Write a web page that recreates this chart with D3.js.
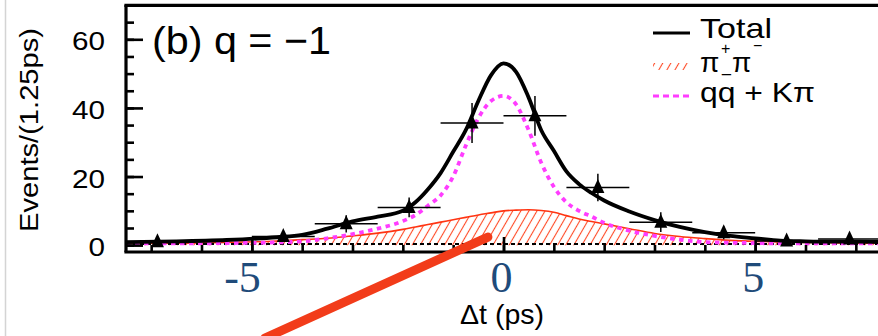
<!DOCTYPE html>
<html>
<head>
<meta charset="utf-8">
<script src="https://cdn.jsdelivr.net/npm/d3@7"></script>
<style>
  html, body { margin: 0; padding: 0; background: #fff; }
  svg { display: block; }
</style>
</head>
<body>
<svg id="chart" width="878" height="336"></svg>
<script>
// Fit components, sampled on a Δt grid (ps)
const deltaT = [-7.5, -6.5, -5.5, -4.5, -4, -3.5, -3, -2.5, -2, -1.75, -1.5, -1.25, -1, -0.75, -0.5, -0.25,
                0, 0.25, 0.5, 0.75, 1, 1.25, 1.5, 1.75, 2, 2.5, 3, 3.5, 4, 4.5, 5, 5.5, 6, 6.5, 7, 7.5];
const totalFit = [0.9, 1.1, 1.5, 2.3, 3.0, 4.8, 6.9, 8.3, 10.0, 12.5, 16.3, 21.0, 27.2, 33.5, 42.0, 49.5,
                  53.0, 50.5, 43.0, 33.5, 27.5, 21.5, 17.8, 15.2, 13.0, 9.8, 7.3, 5.3, 3.8, 2.7, 2.0, 1.3, 1.1, 1.0, 1.0, 0.9];
const qqKpiFit = [0.5, 0.5, 0.6, 0.8, 1.1, 2.0, 3.2, 4.8, 7.0, 8.8, 11.5, 14.5, 20.0, 29.0, 37.0, 42.0,
                  43.5, 41.0, 33.5, 24.0, 17.0, 12.5, 10.0, 8.3, 6.5, 4.2, 2.7, 1.6, 0.9, 0.7, 0.6, 0.5, 0.5, 0.5, 0.5, 0.5];
const pipiFit = [0.5, 0.6, 0.8, 1.2, 1.6, 2.0, 2.7, 3.5, 4.6, 5.3, 6.0, 6.7, 7.4, 8.1, 8.8, 9.4,
                 10.0, 10.2, 10.3, 10.1, 9.6, 8.6, 7.6, 6.9, 6.2, 4.8, 3.4, 2.5, 1.9, 1.4, 1.1, 0.9, 0.8, 0.7, 0.6, 0.6];
const otherLevel = 0.3;

// Binned events (bin width 1.25 ps)
const binCenter = [-6.875, -4.375, -3.125, -1.875, -0.625, 0.625, 1.875, 3.125, 4.375, 5.625, 6.875];
const events    = [1.0, 2.5, 6.2, 11.0, 35.6, 37.7, 16.8, 6.7, 3.6, 1.2, 1.8];
const eventErr  = [1.0, 1.6, 2.5, 2.9, 5.8, 5.8, 4.0, 2.9, 1.9, 1.1, 1.3];
const binHalf = 0.625;

const yMajorTicks = [0, 20, 40, 60];
const yTickLabels = ["0", "20", "40", "60"];
const xMajorTicks = [-5, 0, 5];
const xTickLabels = ["-5", "0", "5"];

const svg = d3.select("#chart");
const x = d3.scaleLinear().domain([-7.5, 7.5]).range([126, 881]);
const y = d3.scaleLinear().domain([-2, 70]).range([252, 5]);

const defs = svg.append("defs");
defs.append("clipPath").attr("id", "plotClip")
  .append("rect").attr("x", 126).attr("y", 5).attr("width", 755).attr("height", 247);
const hatch = defs.append("pattern").attr("id", "hatch")
  .attr("patternUnits", "userSpaceOnUse").attr("width", 7).attr("height", 10)
  .attr("patternTransform", "rotate(30)");
hatch.append("line").attr("x1", 3.5).attr("x2", 3.5).attr("y1", 0).attr("y2", 10)
  .attr("stroke", "#ff4a26").attr("stroke-width", 1.1);

// page edge
svg.append("line").attr("x1", 5.5).attr("x2", 5.5).attr("y1", 0).attr("y2", 336)
  .attr("stroke", "#d4d4d4").attr("stroke-width", 1.5);

const plot = svg.append("g").attr("clip-path", "url(#plotClip)");
const pts = (vals) => deltaT.map((t, i) => [t, vals[i]]);

// π+π− component: hatched area
plot.append("path")
  .datum(pts(pipiFit))
  .attr("d", d3.area().x(d => x(d[0])).y0(y(0)).y1(d => y(d[1])).curve(d3.curveMonotoneX))
  .attr("fill", "url(#hatch)");
plot.append("path")
  .datum(pts(pipiFit))
  .attr("d", d3.line().x(d => x(d[0])).y(d => y(d[1])).curve(d3.curveMonotoneX))
  .attr("fill", "none").attr("stroke", "#ff3412").attr("stroke-width", 1.6);

// remaining component, flat
plot.append("line")
  .attr("x1", x(-7.5)).attr("x2", x(7.5)).attr("y1", y(otherLevel)).attr("y2", y(otherLevel))
  .attr("stroke", "#000").attr("stroke-width", 2).attr("stroke-dasharray", "4,3");

// qq + Kπ component
plot.append("path")
  .datum(pts(qqKpiFit))
  .attr("d", d3.line().x(d => x(d[0])).y(d => y(d[1])).curve(d3.curveMonotoneX))
  .attr("fill", "none").attr("stroke", "#ff3cff").attr("stroke-width", 3.8)
  .attr("stroke-dasharray", "4.5,4.5");

// total
plot.append("path")
  .datum(pts(totalFit))
  .attr("d", d3.line().x(d => x(d[0])).y(d => y(d[1])).curve(d3.curveMonotoneX))
  .attr("fill", "none").attr("stroke", "#000").attr("stroke-width", 3.8);

// data points with error bars
const pg = plot.append("g");
binCenter.forEach((c, i) => {
  const g = pg.append("g");
  g.append("line").attr("x1", x(c - binHalf)).attr("x2", x(c + binHalf))
    .attr("y1", y(events[i])).attr("y2", y(events[i]))
    .attr("stroke", "#000").attr("stroke-width", 1.5);
  g.append("line").attr("x1", x(c)).attr("x2", x(c))
    .attr("y1", y(events[i] - eventErr[i])).attr("y2", y(events[i] + eventErr[i]))
    .attr("stroke", "#000").attr("stroke-width", 1.5);
  g.append("path")
    .attr("transform", `translate(${x(c)},${y(events[i])})`)
    .attr("d", "M0,-8.5L6.5,5.5L-6.5,5.5Z").attr("fill", "#000");
});

// axes ticks
function styleAxis(g) {
  g.select(".domain").remove();
  g.selectAll(".tick line").attr("stroke", "#000").attr("stroke-width", 2.6);
  g.selectAll(".tick text").remove();
}
svg.append("g").attr("transform", `translate(126,0)`)
  .call(d3.axisRight(y).tickValues(d3.range(0, 70, 5)).tickSize(8)).call(styleAxis);
svg.append("g").attr("transform", `translate(126,0)`)
  .call(d3.axisRight(y).tickValues(yMajorTicks).tickSize(17)).call(styleAxis);
svg.append("g").attr("transform", `translate(0,252)`)
  .call(d3.axisTop(x).tickValues(d3.range(-7, 8, 1)).tickSize(7)).call(styleAxis);
svg.append("g").attr("transform", `translate(0,252)`)
  .call(d3.axisTop(x).tickValues(xMajorTicks).tickSize(15)).call(styleAxis);

// frame
const frame = svg.append("g").attr("stroke", "#000").attr("stroke-width", 3.2).attr("fill", "none");
frame.append("line").attr("x1", 126).attr("x2", 126).attr("y1", 5).attr("y2", 252);
frame.append("line").attr("x1", 124.4).attr("x2", 878).attr("y1", 5.3).attr("y2", 5.3);
frame.append("line").attr("x1", 124.4).attr("x2", 878).attr("y1", 252).attr("y2", 252);

const sans = "'Liberation Sans', Arial, Helvetica, sans-serif";

// y tick labels
yMajorTicks.forEach((v, i) => {
  svg.append("text")
    .attr("x", 105).attr("y", y(v) + 11)
    .attr("text-anchor", "end")
    .attr("font-family", sans).attr("font-size", 25.5)
    .attr("textLength", yTickLabels[i].length * 16.5).attr("lengthAdjust", "spacingAndGlyphs")
    .text(yTickLabels[i]);
});

// x tick labels
xMajorTicks.forEach((v, i) => {
  svg.append("text")
    .attr("x", x(v) + 9).attr("y", 292)
    .attr("text-anchor", "end")
    .attr("font-family", "'Liberation Serif', 'Times New Roman', serif")
    .attr("font-size", 44).attr("fill", "#1f4b7a")
    .text(xTickLabels[i]);
});

// axis titles
svg.append("text")
  .attr("transform", "translate(38,130) rotate(-90)")
  .attr("text-anchor", "middle")
  .attr("font-family", sans).attr("font-size", 25)
  .attr("textLength", 204).attr("lengthAdjust", "spacingAndGlyphs")
  .text("Events/(1.25ps)");
svg.append("text")
  .attr("x", 460).attr("y", 324)
  .attr("font-family", sans).attr("font-size", 28)
  .attr("textLength", 84).attr("lengthAdjust", "spacingAndGlyphs")
  .text("Δt (ps)");

// panel label
svg.append("text")
  .attr("x", 152).attr("y", 54)
  .attr("font-family", sans).attr("font-size", 39)
  .attr("textLength", 179).attr("lengthAdjust", "spacingAndGlyphs")
  .text("(b) q = −1");

// legend
const lg = svg.append("g");
lg.append("line").attr("x1", 653).attr("x2", 690).attr("y1", 33).attr("y2", 33)
  .attr("stroke", "#000").attr("stroke-width", 3);
lg.append("text").attr("x", 700).attr("y", 38)
  .attr("font-family", sans).attr("font-size", 28)
  .attr("textLength", 72).attr("lengthAdjust", "spacingAndGlyphs")
  .text("Total");

lg.append("rect").attr("x", 653).attr("y", 63).attr("width", 37).attr("height", 7)
  .attr("fill", "url(#hatch)");
const pp = lg.append("text").attr("font-family", sans).attr("font-size", 28);
pp.append("tspan").attr("x", 700).attr("y", 72).text("π");
pp.append("tspan").attr("x", 721).attr("y", 54).attr("font-size", 16).text("+");
pp.append("tspan").attr("x", 722).attr("y", 72).attr("font-size", 16).text("_");
pp.append("tspan").attr("x", 732).attr("y", 72).text("π");
pp.append("tspan").attr("x", 753).attr("y", 51).attr("font-size", 16).text("−");

lg.append("line").attr("x1", 653).attr("x2", 690).attr("y1", 96).attr("y2", 96)
  .attr("stroke", "#ff3cff").attr("stroke-width", 3).attr("stroke-dasharray", "6,4");
lg.append("text").attr("x", 700).attr("y", 102)
  .attr("font-family", sans).attr("font-size", 27)
  .attr("textLength", 115).attr("lengthAdjust", "spacingAndGlyphs")
  .text("qq + Kπ");

// pointer stroke over the plot
const pointer = [[-4.74, -27.1], [-0.31, 2.36]];
svg.append("line")
  .attr("x1", x(pointer[0][0])).attr("y1", y(pointer[0][1]))
  .attr("x2", x(pointer[1][0])).attr("y2", y(pointer[1][1]))
  .attr("stroke", "#f23c1a").attr("stroke-width", 9).attr("stroke-linecap", "round");
</script>
</body>
</html>
